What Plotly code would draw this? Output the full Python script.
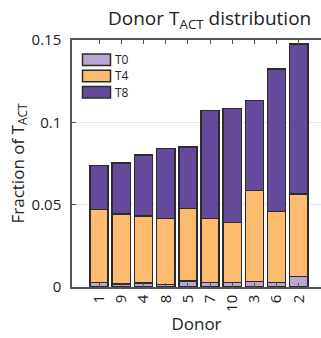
import plotly.graph_objects as go

# Donor order along the x axis (sorted by total T_ACT fraction)
donors = ["1", "9", "4", "8", "5", "7", "10", "3", "6", "2"]

# Fraction of T_ACT cells per donor, split by subset (stacked)
t0 = [0.0028, 0.0018, 0.0023, 0.0016, 0.0036, 0.0026, 0.0026, 0.0033, 0.0026, 0.0064]
t4 = [0.0444, 0.0425, 0.0408, 0.0401, 0.0442, 0.0391, 0.0365, 0.0552, 0.0434, 0.0500]
t8 = [0.0266, 0.0311, 0.0372, 0.0424, 0.0373, 0.0656, 0.0692, 0.0548, 0.0865, 0.0912]

series = [("T0", t0, "#bba6d1"), ("T4", t4, "#fdbb6f"), ("T8", t8, "#654a9c")]

FONT = "Open Sans"
EDGE = "#2b2b2b"
AXIS = "#555555"
TXT = "#222222"

fig = go.Figure()
for name, vals, color in series:
    fig.add_trace(go.Bar(
        x=donors, y=vals, name=name,
        marker=dict(color=color, line=dict(color=EDGE, width=1.5)),
        showlegend=False,
    ))

# Legend drawn as wide boxed swatches in the upper-left corner
L, T, W, H = 72, 40, 249, 247.5
shapes = []
annotations = []
for i, (name, _, color) in enumerate(series):
    y0 = 54 + i * 16.3
    y1 = y0 + 11.5
    shapes.append(dict(
        type="rect", xref="paper", yref="paper",
        x0=(82.5 - L) / W, x1=(110.5 - L) / W,
        y0=(T + H - y1) / H, y1=(T + H - y0) / H,
        fillcolor=color, line=dict(color=EDGE, width=1.5), layer="above",
    ))
    annotations.append(dict(
        xref="paper", yref="paper", x=(114 - L) / W, y=(T + H - (y0 + y1) / 2) / H,
        text=name, showarrow=False, xanchor="left", yanchor="middle",
        font=dict(family=FONT, size=12, color=TXT), borderpad=0,
    ))

# Chart title above the axes
annotations.append(dict(
    xref="paper", yref="paper", x=(209 - L) / W, y=(T + H - 19) / H,
    text="Donor T<sub>ACT</sub> distribution", showarrow=False,
    xanchor="center", yanchor="middle",
    font=dict(family=FONT, size=19, color=TXT),
))

fig.update_layout(
    width=321, height=338,
    margin=dict(l=L, r=0, t=T, b=338 - T - H),
    barmode="stack", bargap=0.18,
    plot_bgcolor="white", paper_bgcolor="white",
    font=dict(family=FONT, color=TXT),
    shapes=shapes, annotations=annotations,
)

fig.update_xaxes(
    type="category", range=[-1.22, 10.0],
    showline=True, linecolor=AXIS, linewidth=1.5, mirror="ticks",
    ticks="inside", ticklen=4, tickcolor=AXIS, tickwidth=1,
    tickangle=-90, tickfont=dict(family=FONT, size=15, color=TXT),
    showgrid=False,
    title=dict(text="Donor", font=dict(family=FONT, size=17, color=TXT), standoff=6),
)
fig.update_yaxes(
    range=[0, 0.15], tickvals=[0, 0.05, 0.1, 0.15], ticktext=["0", "0.05", "0.1", "0.15"],
    showline=True, linecolor=AXIS, linewidth=1.5,
    ticks="inside", ticklen=4, tickcolor=AXIS, tickwidth=1,
    tickfont=dict(family=FONT, size=15, color=TXT), ticklabelstandoff=6,
    showgrid=True, gridcolor="#e6e6e6", gridwidth=1, zeroline=False,
    title=dict(text="Fraction of T<sub>ACT</sub>", font=dict(family=FONT, size=17, color=TXT),
               standoff=3),
)

fig.write_html("out.html")
